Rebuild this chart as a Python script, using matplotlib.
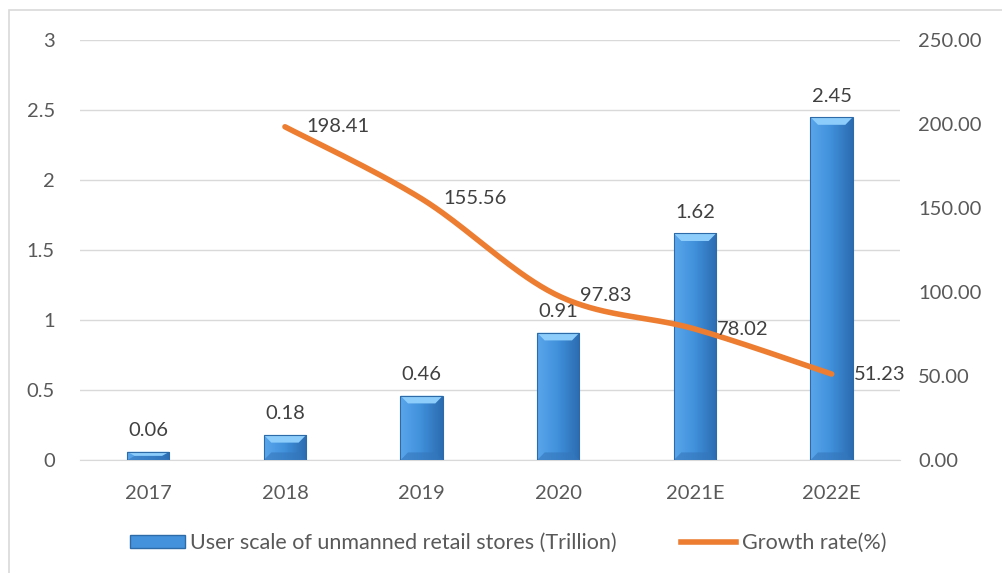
import numpy as np
import matplotlib.pyplot as plt
from matplotlib.patches import Rectangle, Polygon
from matplotlib.lines import Line2D
from matplotlib.colors import LinearSegmentedColormap

# data
years = ['2017', '2018', '2019', '2020', '2021E', '2022E']
scale = [0.06, 0.18, 0.46, 0.91, 1.62, 2.45]
growth_years = ['2018', '2019', '2020', '2021E', '2022E']
growth = [198.41, 155.56, 97.83, 78.02, 51.23]

plt.rcParams['font.family'] = ['Lato', 'DejaVu Sans']
txt = '#595959'
fs = 14.5

fig = plt.figure(figsize=(10.02, 5.73), dpi=100)
ax = fig.add_axes([0.0798, 0.197, 0.8184, 0.733])
ax2 = ax.twinx()

x = np.arange(len(years))
w = 0.31
cmap = LinearSegmentedColormap.from_list('b', ['#5aa6ec', '#3f8fda', '#2c6cb0'])
grad = np.linspace(0, 1, 64).reshape(1, -1)

bars = ax.bar(x, scale, width=w, color='none', edgecolor='#2d6aa8', linewidth=0.8, zorder=4)
for b, v in zip(bars, scale):
    x0, y0 = b.get_x(), b.get_y()
    im = ax.imshow(grad, cmap=cmap, aspect='auto', extent=[x0, x0 + w, y0, y0 + v], zorder=2)
    im.set_clip_path(b)
    # top bevel
    dy = min(0.055, v / 2)
    dx = 0.055
    ax.add_patch(Polygon([(x0, v), (x0 + w, v), (x0 + w - dx, v - dy), (x0 + dx, v - dy)],
                         closed=True, facecolor='#8ccdfb', edgecolor='none', zorder=3))
    # bottom bevel
    ax.add_patch(Polygon([(x0, 0), (x0 + w, 0), (x0 + w - dx, dy), (x0 + dx, dy)],
                         closed=True, facecolor='#3476bb', edgecolor='none', alpha=0.6, zorder=3))
    ax.text(x0 + w / 2, v + 0.09, f'{v:.2f}', ha='center', va='bottom', fontsize=fs, color='#404040')

ax.set_xlim(-0.5, len(years) - 0.5)
ax.set_ylim(0, 3)
ax.set_yticks([0, 0.5, 1, 1.5, 2, 2.5, 3])
ax.set_yticklabels(['0', '0.5', '1', '1.5', '2', '2.5', '3'])
ax.set_xticks(x)
ax.set_xticklabels(years)
ax.grid(axis='y', color='#d9d9d9', linewidth=1, zorder=0)
ax.set_axisbelow(True)
for a in (ax, ax2):
    for s in a.spines.values():
        s.set_visible(False)
ax.spines['bottom'].set_visible(True)
ax.spines['bottom'].set_color('#d9d9d9')
ax.tick_params(axis='both', length=0, labelsize=fs, colors=txt)
ax.tick_params(axis='y', pad=18)
ax.tick_params(axis='x', pad=18)

# smoothed growth line (Excel-style bezier through points)
gx = np.array([years.index(g) for g in growth_years], dtype=float)
gy = np.array(growth)
px = gx / 6.0 * 820
py = gy / 250.0 * 420
pts = np.column_stack([px, py])
curve = []
n = len(pts)
for i in range(n - 1):
    p0 = pts[max(i - 1, 0)]
    p1 = pts[i]
    p2 = pts[i + 1]
    p3 = pts[min(i + 2, n - 1)]
    c1 = p1 + (p2 - p0) / 6
    c2 = p2 - (p3 - p1) / 6
    t = np.linspace(0, 1, 40)[:, None]
    seg = (1 - t) ** 3 * p1 + 3 * (1 - t) ** 2 * t * c1 + 3 * (1 - t) * t ** 2 * c2 + t ** 3 * p2
    curve.append(seg)
curve = np.vstack(curve)
ax2.plot(curve[:, 0] / 820 * 6, curve[:, 1] / 420 * 250, color='#ed7d31', linewidth=4,
         solid_capstyle='round', zorder=5)
for gxi, gyi in zip(gx, gy):
    ax2.text(gxi + 0.16, gyi, f'{gyi:.2f}', ha='left', va='center', fontsize=fs, color='#404040', zorder=6)

ax2.set_ylim(0, 250)
ax2.set_yticks([0, 50, 100, 150, 200, 250])
ax2.set_yticklabels([f'{v:.2f}' for v in [0, 50, 100, 150, 200, 250]])
ax2.tick_params(axis='y', length=0, labelsize=fs, colors=txt, pad=13)
ax2.set_xlim(-0.5, len(years) - 0.5)

handles = [Rectangle((0, 0), 1, 1, facecolor='#4592dc', edgecolor='#2d6aa8'),
           Line2D([0], [0], color='#ed7d31', linewidth=4)]
fig.legend(handles, ['User scale of unmanned retail stores (Trillion)', 'Growth rate(%)'],
           loc='center', bbox_to_anchor=(0.507, 0.052), ncol=2, frameon=False,
           fontsize=15.5, labelcolor=txt, handlelength=2.55, handleheight=0.55,
           handletextpad=0.25, columnspacing=3.0)

fig.patches.append(Rectangle((0.009, -0.05), 1.2, 1.0325, transform=fig.transFigure,
                             fill=False, edgecolor='#d9d9d9', linewidth=1.2))

fig.savefig('out.png', dpi=100)
